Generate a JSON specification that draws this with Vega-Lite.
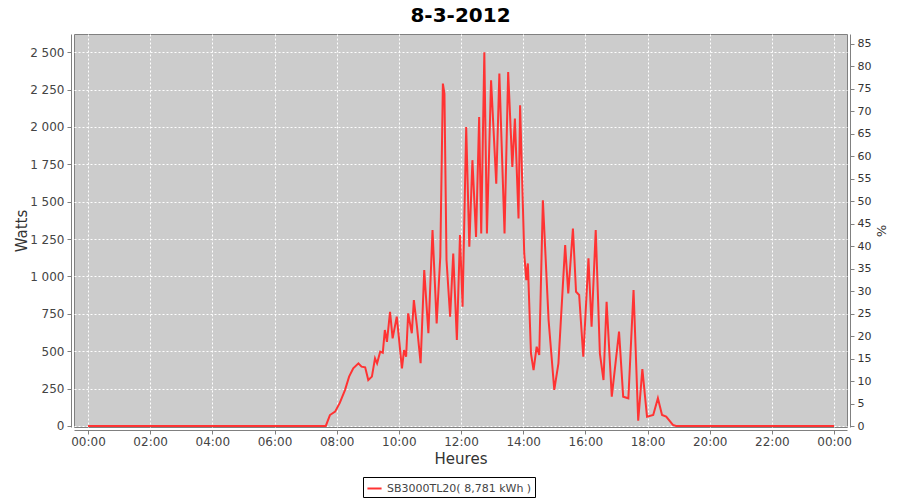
{
  "$schema": "https://vega.github.io/schema/vega-lite/v6.json",
  "width": 773,
  "height": 393,
  "autosize": {"type": "none"},
  "padding": {"left": 74, "top": 34, "right": 53, "bottom": 73},
  "background": "white",
  "title": {"text": "8-3-2012", "fontSize": 20, "fontWeight": "bold", "font": "DejaVu Sans", "color": "#000000", "anchor": "middle", "offset": 8},
  "config": {"view": {"fill": "#cccccc", "stroke": "#808080"}, "font": "DejaVu Sans"},
  "datasets": {
    "power": [
      {"time": "2012-03-08T00:00:00Z", "watts": 0, "series": "SB3000TL20( 8,781 kWh )"},
      {"time": "2012-03-08T07:39:00Z", "watts": 0, "series": "SB3000TL20( 8,781 kWh )"},
      {"time": "2012-03-08T07:47:00Z", "watts": 73, "series": "SB3000TL20( 8,781 kWh )"},
      {"time": "2012-03-08T07:57:00Z", "watts": 96, "series": "SB3000TL20( 8,781 kWh )"},
      {"time": "2012-03-08T08:06:00Z", "watts": 154, "series": "SB3000TL20( 8,781 kWh )"},
      {"time": "2012-03-08T08:16:00Z", "watts": 240, "series": "SB3000TL20( 8,781 kWh )"},
      {"time": "2012-03-08T08:24:00Z", "watts": 330, "series": "SB3000TL20( 8,781 kWh )"},
      {"time": "2012-03-08T08:32:00Z", "watts": 385, "series": "SB3000TL20( 8,781 kWh )"},
      {"time": "2012-03-08T08:42:00Z", "watts": 419, "series": "SB3000TL20( 8,781 kWh )"},
      {"time": "2012-03-08T08:48:00Z", "watts": 397, "series": "SB3000TL20( 8,781 kWh )"},
      {"time": "2012-03-08T08:55:00Z", "watts": 392, "series": "SB3000TL20( 8,781 kWh )"},
      {"time": "2012-03-08T09:01:00Z", "watts": 307, "series": "SB3000TL20( 8,781 kWh )"},
      {"time": "2012-03-08T09:08:00Z", "watts": 330, "series": "SB3000TL20( 8,781 kWh )"},
      {"time": "2012-03-08T09:14:00Z", "watts": 452, "series": "SB3000TL20( 8,781 kWh )"},
      {"time": "2012-03-08T09:18:00Z", "watts": 419, "series": "SB3000TL20( 8,781 kWh )"},
      {"time": "2012-03-08T09:24:00Z", "watts": 497, "series": "SB3000TL20( 8,781 kWh )"},
      {"time": "2012-03-08T09:29:00Z", "watts": 490, "series": "SB3000TL20( 8,781 kWh )"},
      {"time": "2012-03-08T09:33:00Z", "watts": 642, "series": "SB3000TL20( 8,781 kWh )"},
      {"time": "2012-03-08T09:37:00Z", "watts": 563, "series": "SB3000TL20( 8,781 kWh )"},
      {"time": "2012-03-08T09:43:00Z", "watts": 764, "series": "SB3000TL20( 8,781 kWh )"},
      {"time": "2012-03-08T09:48:00Z", "watts": 586, "series": "SB3000TL20( 8,781 kWh )"},
      {"time": "2012-03-08T09:56:00Z", "watts": 731, "series": "SB3000TL20( 8,781 kWh )"},
      {"time": "2012-03-08T10:06:00Z", "watts": 385, "series": "SB3000TL20( 8,781 kWh )"},
      {"time": "2012-03-08T10:10:00Z", "watts": 508, "series": "SB3000TL20( 8,781 kWh )"},
      {"time": "2012-03-08T10:14:00Z", "watts": 463, "series": "SB3000TL20( 8,781 kWh )"},
      {"time": "2012-03-08T10:18:00Z", "watts": 753, "series": "SB3000TL20( 8,781 kWh )"},
      {"time": "2012-03-08T10:25:00Z", "watts": 620, "series": "SB3000TL20( 8,781 kWh )"},
      {"time": "2012-03-08T10:29:00Z", "watts": 842, "series": "SB3000TL20( 8,781 kWh )"},
      {"time": "2012-03-08T10:35:00Z", "watts": 664, "series": "SB3000TL20( 8,781 kWh )"},
      {"time": "2012-03-08T10:42:00Z", "watts": 420, "series": "SB3000TL20( 8,781 kWh )"},
      {"time": "2012-03-08T10:49:00Z", "watts": 1043, "series": "SB3000TL20( 8,781 kWh )"},
      {"time": "2012-03-08T10:57:00Z", "watts": 620, "series": "SB3000TL20( 8,781 kWh )"},
      {"time": "2012-03-08T11:05:00Z", "watts": 1310, "series": "SB3000TL20( 8,781 kWh )"},
      {"time": "2012-03-08T11:13:00Z", "watts": 686, "series": "SB3000TL20( 8,781 kWh )"},
      {"time": "2012-03-08T11:20:00Z", "watts": 1132, "series": "SB3000TL20( 8,781 kWh )"},
      {"time": "2012-03-08T11:25:00Z", "watts": 2290, "series": "SB3000TL20( 8,781 kWh )"},
      {"time": "2012-03-08T11:28:00Z", "watts": 2223, "series": "SB3000TL20( 8,781 kWh )"},
      {"time": "2012-03-08T11:32:00Z", "watts": 1110, "series": "SB3000TL20( 8,781 kWh )"},
      {"time": "2012-03-08T11:39:00Z", "watts": 731, "series": "SB3000TL20( 8,781 kWh )"},
      {"time": "2012-03-08T11:45:00Z", "watts": 1154, "series": "SB3000TL20( 8,781 kWh )"},
      {"time": "2012-03-08T11:52:00Z", "watts": 575, "series": "SB3000TL20( 8,781 kWh )"},
      {"time": "2012-03-08T11:58:00Z", "watts": 1277, "series": "SB3000TL20( 8,781 kWh )"},
      {"time": "2012-03-08T12:03:00Z", "watts": 797, "series": "SB3000TL20( 8,781 kWh )"},
      {"time": "2012-03-08T12:10:00Z", "watts": 2000, "series": "SB3000TL20( 8,781 kWh )"},
      {"time": "2012-03-08T12:16:00Z", "watts": 1199, "series": "SB3000TL20( 8,781 kWh )"},
      {"time": "2012-03-08T12:22:00Z", "watts": 1778, "series": "SB3000TL20( 8,781 kWh )"},
      {"time": "2012-03-08T12:29:00Z", "watts": 1265, "series": "SB3000TL20( 8,781 kWh )"},
      {"time": "2012-03-08T12:35:00Z", "watts": 2067, "series": "SB3000TL20( 8,781 kWh )"},
      {"time": "2012-03-08T12:39:00Z", "watts": 1288, "series": "SB3000TL20( 8,781 kWh )"},
      {"time": "2012-03-08T12:45:00Z", "watts": 2500, "series": "SB3000TL20( 8,781 kWh )"},
      {"time": "2012-03-08T12:50:00Z", "watts": 1288, "series": "SB3000TL20( 8,781 kWh )"},
      {"time": "2012-03-08T12:58:00Z", "watts": 2313, "series": "SB3000TL20( 8,781 kWh )"},
      {"time": "2012-03-08T13:08:00Z", "watts": 1621, "series": "SB3000TL20( 8,781 kWh )"},
      {"time": "2012-03-08T13:14:00Z", "watts": 2357, "series": "SB3000TL20( 8,781 kWh )"},
      {"time": "2012-03-08T13:24:00Z", "watts": 1288, "series": "SB3000TL20( 8,781 kWh )"},
      {"time": "2012-03-08T13:31:00Z", "watts": 2368, "series": "SB3000TL20( 8,781 kWh )"},
      {"time": "2012-03-08T13:39:00Z", "watts": 1733, "series": "SB3000TL20( 8,781 kWh )"},
      {"time": "2012-03-08T13:44:00Z", "watts": 2056, "series": "SB3000TL20( 8,781 kWh )"},
      {"time": "2012-03-08T13:51:00Z", "watts": 1388, "series": "SB3000TL20( 8,781 kWh )"},
      {"time": "2012-03-08T13:54:00Z", "watts": 2146, "series": "SB3000TL20( 8,781 kWh )"},
      {"time": "2012-03-08T14:02:00Z", "watts": 1154, "series": "SB3000TL20( 8,781 kWh )"},
      {"time": "2012-03-08T14:06:00Z", "watts": 976, "series": "SB3000TL20( 8,781 kWh )"},
      {"time": "2012-03-08T14:09:00Z", "watts": 1087, "series": "SB3000TL20( 8,781 kWh )"},
      {"time": "2012-03-08T14:15:00Z", "watts": 486, "series": "SB3000TL20( 8,781 kWh )"},
      {"time": "2012-03-08T14:20:00Z", "watts": 374, "series": "SB3000TL20( 8,781 kWh )"},
      {"time": "2012-03-08T14:26:00Z", "watts": 530, "series": "SB3000TL20( 8,781 kWh )"},
      {"time": "2012-03-08T14:31:00Z", "watts": 475, "series": "SB3000TL20( 8,781 kWh )"},
      {"time": "2012-03-08T14:38:00Z", "watts": 1510, "series": "SB3000TL20( 8,781 kWh )"},
      {"time": "2012-03-08T14:49:00Z", "watts": 709, "series": "SB3000TL20( 8,781 kWh )"},
      {"time": "2012-03-08T15:00:00Z", "watts": 241, "series": "SB3000TL20( 8,781 kWh )"},
      {"time": "2012-03-08T15:08:00Z", "watts": 419, "series": "SB3000TL20( 8,781 kWh )"},
      {"time": "2012-03-08T15:21:00Z", "watts": 1210, "series": "SB3000TL20( 8,781 kWh )"},
      {"time": "2012-03-08T15:27:00Z", "watts": 887, "series": "SB3000TL20( 8,781 kWh )"},
      {"time": "2012-03-08T15:36:00Z", "watts": 1321, "series": "SB3000TL20( 8,781 kWh )"},
      {"time": "2012-03-08T15:42:00Z", "watts": 898, "series": "SB3000TL20( 8,781 kWh )"},
      {"time": "2012-03-08T15:48:00Z", "watts": 876, "series": "SB3000TL20( 8,781 kWh )"},
      {"time": "2012-03-08T15:56:00Z", "watts": 463, "series": "SB3000TL20( 8,781 kWh )"},
      {"time": "2012-03-08T16:06:00Z", "watts": 1121, "series": "SB3000TL20( 8,781 kWh )"},
      {"time": "2012-03-08T16:12:00Z", "watts": 664, "series": "SB3000TL20( 8,781 kWh )"},
      {"time": "2012-03-08T16:20:00Z", "watts": 1310, "series": "SB3000TL20( 8,781 kWh )"},
      {"time": "2012-03-08T16:28:00Z", "watts": 486, "series": "SB3000TL20( 8,781 kWh )"},
      {"time": "2012-03-08T16:35:00Z", "watts": 307, "series": "SB3000TL20( 8,781 kWh )"},
      {"time": "2012-03-08T16:41:00Z", "watts": 831, "series": "SB3000TL20( 8,781 kWh )"},
      {"time": "2012-03-08T16:51:00Z", "watts": 196, "series": "SB3000TL20( 8,781 kWh )"},
      {"time": "2012-03-08T17:05:00Z", "watts": 631, "series": "SB3000TL20( 8,781 kWh )"},
      {"time": "2012-03-08T17:13:00Z", "watts": 196, "series": "SB3000TL20( 8,781 kWh )"},
      {"time": "2012-03-08T17:23:00Z", "watts": 185, "series": "SB3000TL20( 8,781 kWh )"},
      {"time": "2012-03-08T17:33:00Z", "watts": 909, "series": "SB3000TL20( 8,781 kWh )"},
      {"time": "2012-03-08T17:42:00Z", "watts": 35, "series": "SB3000TL20( 8,781 kWh )"},
      {"time": "2012-03-08T17:50:00Z", "watts": 380, "series": "SB3000TL20( 8,781 kWh )"},
      {"time": "2012-03-08T17:59:00Z", "watts": 62, "series": "SB3000TL20( 8,781 kWh )"},
      {"time": "2012-03-08T18:11:00Z", "watts": 73, "series": "SB3000TL20( 8,781 kWh )"},
      {"time": "2012-03-08T18:20:00Z", "watts": 185, "series": "SB3000TL20( 8,781 kWh )"},
      {"time": "2012-03-08T18:28:00Z", "watts": 73, "series": "SB3000TL20( 8,781 kWh )"},
      {"time": "2012-03-08T18:36:00Z", "watts": 62, "series": "SB3000TL20( 8,781 kWh )"},
      {"time": "2012-03-08T18:49:00Z", "watts": 7, "series": "SB3000TL20( 8,781 kWh )"},
      {"time": "2012-03-08T18:55:00Z", "watts": 0, "series": "SB3000TL20( 8,781 kWh )"},
      {"time": "2012-03-09T00:00:00Z", "watts": 0, "series": "SB3000TL20( 8,781 kWh )"}
    ],
    "pct": [{"pct": 0}, {"pct": 85}]
  },
  "layer": [
    {
      "data": {"name": "power"},
      "mark": {"type": "line", "strokeWidth": 2, "interpolate": "linear"},
      "encoding": {
        "x": {
          "field": "time",
          "type": "temporal",
          "scale": {
            "type": "utc",
            "domain": [
              {"year": 2012, "month": 3, "date": 7, "hours": 23, "minutes": 33, "utc": true},
              {"year": 2012, "month": 3, "date": 9, "hours": 0, "minutes": 25, "utc": true}
            ],
            "nice": false
          },
          "axis": {
            "values": [
              {"year": 2012, "month": 3, "date": 8, "hours": 0, "utc": true},
              {"year": 2012, "month": 3, "date": 8, "hours": 2, "utc": true},
              {"year": 2012, "month": 3, "date": 8, "hours": 4, "utc": true},
              {"year": 2012, "month": 3, "date": 8, "hours": 6, "utc": true},
              {"year": 2012, "month": 3, "date": 8, "hours": 8, "utc": true},
              {"year": 2012, "month": 3, "date": 8, "hours": 10, "utc": true},
              {"year": 2012, "month": 3, "date": 8, "hours": 12, "utc": true},
              {"year": 2012, "month": 3, "date": 8, "hours": 14, "utc": true},
              {"year": 2012, "month": 3, "date": 8, "hours": 16, "utc": true},
              {"year": 2012, "month": 3, "date": 8, "hours": 18, "utc": true},
              {"year": 2012, "month": 3, "date": 8, "hours": 20, "utc": true},
              {"year": 2012, "month": 3, "date": 8, "hours": 22, "utc": true},
              {"year": 2012, "month": 3, "date": 9, "hours": 0, "utc": true}
            ],
            "format": "%H:%M",
            "offset": 3,
            "domainColor": "#808080",
            "tickColor": "#808080",
            "tickSize": 4,
            "labelColor": "#444444",
            "labelFontSize": 12,
            "labelPadding": 2,
            "labelFlush": false,
            "labelOverlap": false,
            "title": "Heures",
            "titleFontSize": 15,
            "titleFontWeight": "normal",
            "titleColor": "#333333",
            "titlePadding": 4,
            "grid": true,
            "gridColor": "#ffffff",
            "gridDash": [2, 2],
            "gridOpacity": 1
          }
        },
        "y": {
          "field": "watts",
          "type": "quantitative",
          "scale": {"domain": [-7, 2622], "nice": false, "zero": false},
          "axis": {
            "values": [0, 250, 500, 750, 1000, 1250, 1500, 1750, 2000, 2250, 2500],
            "labelExpr": "replace(format(datum.value, ','), ',', ' ')",
            "offset": 3,
            "domainColor": "#808080",
            "tickColor": "#808080",
            "tickSize": 4,
            "labelColor": "#444444",
            "labelFontSize": 12,
            "labelPadding": 3,
            "title": "Watts",
            "titleFontSize": 15,
            "titleFontWeight": "normal",
            "titleColor": "#333333",
            "titlePadding": 0,
            "grid": true,
            "gridColor": "#ffffff",
            "gridDash": [2, 2],
            "gridOpacity": 1
          }
        },
        "color": {
          "field": "series",
          "type": "nominal",
          "scale": {"range": ["#ff3333"]},
          "legend": {
            "orient": "none",
            "legendX": 289,
            "legendY": 443,
            "title": null,
            "symbolType": "stroke",
            "symbolStrokeWidth": 2,
            "symbolSize": 200,
            "strokeColor": "#000000",
            "fillColor": "#ffffff",
            "padding": 3,
            "labelFontSize": 11,
            "labelColor": "#444444",
            "direction": "horizontal"
          }
        }
      }
    },
    {
      "data": {"name": "pct"},
      "mark": {"type": "point", "opacity": 0},
      "encoding": {
        "y": {
          "field": "pct",
          "type": "quantitative",
          "scale": {"domain": [-0.22, 87.2], "nice": false, "zero": false},
          "axis": {
            "orient": "right",
            "values": [0, 5, 10, 15, 20, 25, 30, 35, 40, 45, 50, 55, 60, 65, 70, 75, 80, 85],
            "offset": 3,
            "domainColor": "#808080",
            "tickColor": "#808080",
            "tickSize": 4,
            "labelColor": "#333333",
            "labelFontSize": 11,
            "labelPadding": 3,
            "title": "%",
            "titleFontSize": 13,
            "titleFontWeight": "normal",
            "titleColor": "#333333",
            "titlePadding": 3,
            "grid": false
          }
        }
      }
    }
  ],
  "resolve": {"scale": {"y": "independent", "color": "independent"}}
}
